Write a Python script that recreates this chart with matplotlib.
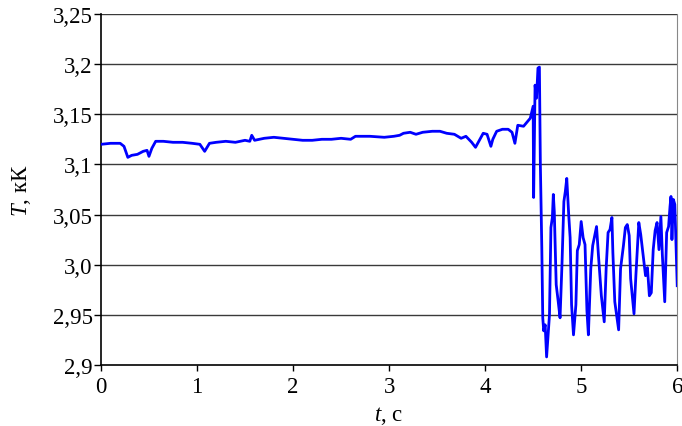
import matplotlib
matplotlib.use("Agg")
import matplotlib.pyplot as plt

plt.rcParams.update({
    "font.family": "Liberation Serif",
    "font.size": 16.5,
    "mathtext.fontset": "custom",
    "mathtext.it": "Liberation Serif:italic",
    "mathtext.rm": "Liberation Serif",
})

# temperature trace
time_s = [0.0, 0.1, 0.2, 0.24, 0.28, 0.32, 0.38, 0.44, 0.48, 0.50, 0.53, 0.57,
          0.65, 0.75, 0.85, 0.95, 1.03, 1.08, 1.13, 1.2, 1.3, 1.4, 1.5, 1.55,
          1.57, 1.6, 1.7, 1.8, 1.9, 2.0, 2.1, 2.2, 2.3, 2.4, 2.5, 2.6, 2.65,
          2.8, 2.95, 3.05, 3.11, 3.15, 3.22, 3.28, 3.35, 3.45, 3.53, 3.6, 3.68,
          3.75, 3.8, 3.86, 3.9, 3.94, 3.98, 4.02, 4.06, 4.08, 4.12, 4.18, 4.24,
          4.28, 4.31, 4.34, 4.4, 4.47, 4.5, 4.505, 4.52, 4.535, 4.55, 4.565,
          4.575, 4.59, 4.60, 4.61, 4.625, 4.64, 4.67, 4.685, 4.70, 4.71, 4.72,
          4.74, 4.76, 4.78, 4.80, 4.82, 4.835, 4.85, 4.87, 4.885, 4.90, 4.92,
          4.945, 4.96, 4.98, 5.0, 5.02, 5.04, 5.06, 5.075, 5.1, 5.12, 5.16,
          5.18, 5.21, 5.24, 5.26, 5.28, 5.30, 5.32, 5.33, 5.35, 5.39, 5.41,
          5.44, 5.46, 5.48, 5.50, 5.515, 5.55, 5.57, 5.60, 5.62, 5.65, 5.67,
          5.69, 5.71, 5.73, 5.75, 5.77, 5.79, 5.81, 5.83, 5.845, 5.87, 5.89,
          5.91, 5.925, 5.935, 5.945, 5.96, 5.975, 6.0]
temp_kK = [3.120, 3.121, 3.121, 3.118, 3.107, 3.109, 3.110, 3.113, 3.114, 3.108,
           3.116, 3.123, 3.123, 3.122, 3.122, 3.121, 3.120, 3.113, 3.121, 3.122,
           3.123, 3.122, 3.124, 3.123, 3.129, 3.124, 3.126, 3.127, 3.126, 3.125,
           3.124, 3.124, 3.125, 3.125, 3.126, 3.125, 3.128, 3.128, 3.127, 3.128,
           3.129, 3.131, 3.132, 3.130, 3.132, 3.133, 3.133, 3.131, 3.130, 3.126,
           3.128, 3.122, 3.117, 3.124, 3.131, 3.130, 3.118, 3.125, 3.133, 3.135,
           3.135, 3.132, 3.121, 3.139, 3.138, 3.146, 3.158, 3.067, 3.179, 3.166,
           3.196, 3.197, 3.10, 3.017, 2.947, 2.934, 2.94, 2.908, 2.95, 3.037,
           3.047, 3.07, 3.053, 2.98, 2.964, 2.947, 3.0, 3.063, 3.073, 3.086,
           3.05, 3.027, 2.96, 2.93, 2.96, 3.014, 3.02, 3.043, 3.027, 3.02,
           2.954, 2.93, 2.996, 3.019, 3.038, 3.009, 2.969, 2.943, 2.996, 3.032,
           3.035, 3.047, 3.012, 2.963, 2.935, 2.996, 3.019, 3.037, 3.04, 3.029,
           2.986, 2.951, 2.99, 3.042, 3.03, 3.005, 2.989, 2.997, 2.969, 2.972,
           3.015, 3.034, 3.042, 3.015, 3.048, 3.01, 2.963, 3.032, 3.038, 3.058,
           3.068, 3.025, 3.065, 3.06, 2.979]

y_ticks = [2.9, 2.95, 3.0, 3.05, 3.1, 3.15, 3.2, 3.25]
y_tick_labels = ["2,9", "2,95", "3,0", "3,05", "3,1", "3,15", "3,2", "3,25"]
x_ticks = [0, 1, 2, 3, 4, 5, 6]

fig = plt.figure(figsize=(6.82, 4.27), dpi=100)
ax = fig.add_axes([0.148, 0.143, 0.845, 0.822])

for y in y_ticks[1:]:
    ax.axhline(y, color="#3a3a3a", linewidth=1.0, zorder=1)

ax.plot(time_s, temp_kK, color="#0000ff", linewidth=2.0, zorder=3)

ax.set_xlim(0, 6)
ax.set_ylim(2.9, 3.25)
ax.set_xticks(x_ticks)
ax.set_yticks(y_ticks)
ax.set_yticklabels(y_tick_labels)
ax.tick_params(axis="y", direction="out", length=5, width=1, pad=1)
ax.tick_params(axis="x", direction="out", length=4.5, width=1, pad=3.5)

ax.spines["top"].set_visible(False)
ax.spines["right"].set_color("#888888")
ax.spines["left"].set_linewidth(1.2)
ax.spines["bottom"].set_linewidth(1.2)

ax.set_xlabel(r"$\mathit{t}$, с", labelpad=5)
ax.set_ylabel(r"$\mathit{T}$, кК", labelpad=14)

fig.savefig("out.png", dpi=100)
